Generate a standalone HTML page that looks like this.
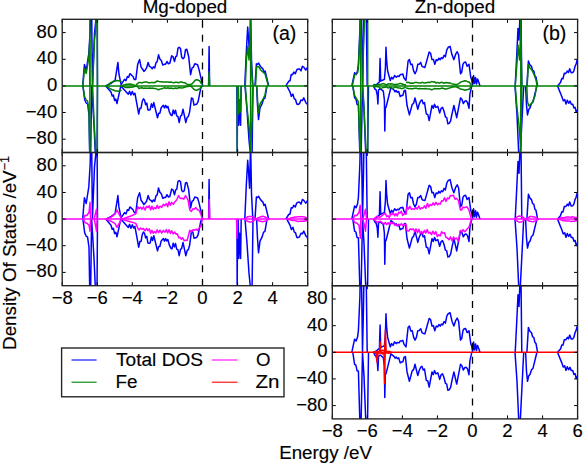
<!DOCTYPE html><html><head><meta charset="utf-8"><style>html,body{margin:0;padding:0;background:#fff;width:583px;height:464px;overflow:hidden}svg{display:block}text{font-family:"Liberation Sans",sans-serif;fill:#000;stroke:#000;stroke-width:0.15}.tk{stroke:#000;stroke-width:1;fill:none}.fr{fill:none;stroke:#222;stroke-width:1.35}.ds{stroke:#000;stroke-width:1.3;stroke-dasharray:7 6.9}.bl path{fill:none;stroke:#0000ff;stroke-width:1.5;stroke-linejoin:round}.gr path,.gr line{fill:none;stroke:#008000;stroke-width:1.5;stroke-linejoin:round}.mg path,.mg line{fill:none;stroke:#ff00ff;stroke-width:1.5;stroke-linejoin:round}.rd path,.rd line{fill:none;stroke:#ff0000;stroke-width:1.5;stroke-linejoin:round}</style></head><body><svg width="583" height="464" viewBox="0 0 583 464"><defs><clipPath id="cA"><rect x="62.2" y="19.3" width="245.5" height="133.2"/></clipPath><clipPath id="cB"><rect x="332.3" y="19.3" width="245.3" height="133.2"/></clipPath></defs><g transform="translate(0,0.0)"><g clip-path="url(#cA)"><g class="bl"><path d="M62.2,85.9M82.7,85.9L84.4,64.5L86.2,70.3L88.8,53.7L90.2,30.6L90.8,-5.0L91.5,-5.0L92.4,85.9L94.5,33.4L95.7,21.9L96.5,-5.0L97.0,-5.0L97.5,85.9M105.7,85.9L111.3,83.2L115.1,80.3L117.9,62.4L118.9,73.7L121.1,84.6L124.5,79.4L126.0,80.6L127.4,76.5L128.6,77.3L129.9,73.7L131.1,74.7L133.0,76.5L134.4,79.6L135.8,79.4L137.7,64.3L139.6,59.6L141.1,67.1L142.5,69.0L143.9,71.4L145.3,69.9L146.7,67.7L148.1,62.4L149.5,66.4L150.9,67.1L152.2,68.8L153.4,66.8L154.7,68.0L156.0,62.6L157.2,61.7L158.5,54.8L159.9,59.0L161.3,60.5L162.8,65.1L164.2,64.3L165.6,64.2L167.0,61.5L168.4,63.8L169.8,63.3L171.7,55.8L173.1,56.8L174.5,61.5L175.7,56.7L176.8,56.0L178.0,48.1L179.2,47.3L180.5,48.5L181.7,57.3L183.0,58.6L184.3,57.5L185.5,49.7L186.8,49.2L188.7,56.7L190.6,74.7L192.0,68.2L193.4,67.1L194.8,63.8L196.2,64.3L197.6,64.8L199.1,69.9L201.9,82.2L202.8,85.9M208.6,85.9L209.1,46.4L209.6,85.9M244.8,85.9L246.3,52.2L247.7,27.0L248.5,37.8L249.6,55.0L250.6,10.0L251.5,60.0L252.8,85.9M255.0,85.9L256.4,63.8L257.5,64.4L258.6,63.1L260.7,66.7L262.9,68.9L264.0,72.2L265.1,71.0L267.2,79.7L268.7,85.9M285.8,85.9L288.7,81.3L290.0,80.8L291.2,74.6L292.5,74.7L293.9,72.1L295.3,73.7L296.7,69.9L298.1,69.0L299.6,69.0L301.0,70.9L302.4,66.3L303.8,67.1L305.7,70.0L307.1,68.2L308.5,64.3"/><path d="M82.9,85.9L84.7,99.7L86.2,103.0L87.6,104.0L89.0,114.3L89.8,160.0L90.6,160.0L91.6,85.9L92.5,100.0L94.0,125.0L95.6,160.0L97.0,160.0L97.5,85.9M105.7,85.9L111.0,92.0L112.2,96.1L113.4,95.1L114.6,100.4L115.8,99.0L117.0,103.6L120.8,85.9L128.3,94.2L129.6,91.2L130.9,95.1L132.3,91.5L133.6,94.8L134.9,93.2L138.7,114.0L139.9,108.3L141.1,108.1L142.2,101.5L143.4,98.9L144.5,100.0L145.6,104.7L146.8,103.1L147.9,109.8L149.0,110.2L150.2,109.6L151.4,103.8L152.6,107.3L153.8,102.6L157.5,117.7L158.7,113.2L159.9,113.2L161.1,108.0L162.3,106.4L163.4,105.4L164.5,107.9L165.7,105.4L166.8,107.7L167.9,106.4L169.4,112.0L170.8,114.9L172.0,115.7L173.2,110.0L174.3,113.7L175.5,110.2L176.7,115.9L178.0,116.7L179.2,122.5L180.5,116.2L181.7,115.2L183.0,109.2L185.8,122.5L187.1,117.5L188.3,116.5L189.6,112.1L191.5,97.9L192.8,98.7L194.0,105.0L195.3,104.5L196.7,104.2L198.1,101.7L200.9,87.5L202.5,85.9M236.9,85.9L237.2,160.0L237.5,85.9M238.3,85.9L238.7,125.3L239.5,100.0L240.6,125.3L241.2,85.9M245.0,85.9L247.0,110.0L249.0,140.0L251.0,160.0L252.0,160.0L253.0,85.9M256.6,85.9L257.5,105.0L258.5,119.6L260.0,108.0L262.0,104.0L263.5,99.2L265.0,98.0L267.0,85.9M286.8,85.9L290.0,92.0L291.4,96.4L292.9,94.1L294.3,98.9L295.5,99.5L296.8,104.0L298.0,104.5L299.5,103.6L301.0,100.0L302.4,100.6L303.8,97.9L306.0,103.0L307.2,103.9L308.5,108.3"/></g><g class="gr"><line x1="62.2" y1="85.9" x2="307.7" y2="85.9"/><path d="M82.9,85.9 L84.4,69.0 L86.2,73.5 L88.8,58.0 L89.9,40.0 L89.9,86.0"/><path d="M82.9,85.9 L84.7,97.0 L86.2,100.0 L87.6,101.0 L89.0,110.0 L89.9,160.0"/><path d="M92.6,85.9 L94.5,40.0 L95.7,30.0 L97.4,-5.0"/><path d="M92.6,85.9 L94.0,120.0 L95.6,150.0 L97.4,160.0"/><path d="M106.2,85.8 L107.7,84.9 L109.3,83.8 L110.8,82.6 L112.4,81.8 L113.9,81.2 L115.4,80.9 L117.0,80.6 L118.5,80.8 L120.1,81.1 L121.6,81.7"/><path d="M106.2,85.8 L107.7,86.8 L109.3,88.0 L110.8,89.0 L112.4,89.8 L113.9,90.3 L115.4,91.0 L117.0,91.0 L118.5,91.2 L120.1,90.7 L121.6,90.1"/><path d="M121.6,86.0 L123.2,85.1 L124.8,84.7 L126.4,84.2 L128.0,84.2 L129.6,84.1 L131.2,84.2 L132.8,84.8 L134.4,85.2 L136.0,85.9"/><path d="M121.6,85.8 L123.2,86.4 L124.8,87.2 L126.4,87.5 L128.0,87.6 L129.6,87.5 L131.2,87.3 L132.8,87.0 L134.4,86.5 L136.0,85.8"/><path d="M136.0,84.9 L137.5,83.7 L139.0,82.4 L140.6,82.6 L142.1,82.9 L143.6,82.3 L145.1,82.1 L146.6,81.9 L148.1,82.7 L149.7,82.8 L151.2,82.6 L152.7,82.5 L154.2,82.7 L155.7,82.0 L157.3,81.0 L158.8,81.4 L160.3,81.7 L161.8,81.7 L163.3,81.9 L164.8,82.1 L166.4,82.0 L167.9,82.0 L169.4,82.3 L170.9,82.0 L172.4,82.4 L174.0,82.7 L175.5,82.2 L177.0,82.3 L178.5,82.9 L180.0,82.1 L181.5,82.1 L183.1,82.5 L184.6,82.7 L186.1,83.7 L187.6,84.7 L189.1,84.4 L190.7,84.4 L192.2,83.7 L193.7,82.0 L195.2,80.3 L196.7,79.8 L198.2,80.1 L199.8,81.0 L201.3,83.6 L202.8,84.1"/><path d="M136.0,86.1 L137.5,86.6 L139.0,88.5 L140.6,87.9 L142.1,87.7 L143.6,88.4 L145.1,88.1 L146.6,88.3 L148.1,88.2 L149.7,87.9 L151.2,88.2 L152.7,88.1 L154.2,88.5 L155.7,88.6 L157.3,89.2 L158.8,89.8 L160.3,88.9 L161.8,88.8 L163.3,88.1 L164.8,87.7 L166.4,88.4 L167.9,87.8 L169.4,88.5 L170.9,88.0 L172.4,88.5 L174.0,88.5 L175.5,88.0 L177.0,88.5 L178.5,87.8 L180.0,87.8 L181.5,88.1 L183.1,87.8 L184.6,87.2 L186.1,86.7 L187.6,86.4 L189.1,86.2 L190.7,85.8 L192.2,87.5 L193.7,89.1 L195.2,90.0 L196.7,90.4 L198.2,89.5 L199.8,88.9 L201.3,86.3 L202.8,85.6"/><path d="M208.6,85.9 L209.1,71.8 L209.6,85.9"/><path d="M245.3,85.9 L246.3,60.9 L247.7,46.5 L249.0,60.0 L250.6,30.0 L251.5,70.0 L252.8,85.9"/><path d="M245.3,85.9 L247.0,108.0 L249.0,125.0 L250.6,150.0 L252.0,120.0 L252.8,85.9"/><path d="M255.5,85.9 L256.6,67.0 L258.6,66.5 L260.7,70.0 L262.9,72.0 L265.1,74.0 L267.2,81.5 L268.3,85.9"/><path d="M256.8,85.9 L257.7,102.0 L258.7,113.0 L260.0,104.0 L262.0,101.0 L265.0,95.0 L266.6,85.9"/><path d="M238.3,85.9 L238.8,114.0 L239.6,100.0 L240.5,112.0 L241.2,85.9"/><line x1="89.9" y1="-5.0" x2="89.9" y2="160.0"/><line x1="97.4" y1="-5.0" x2="97.4" y2="160.0"/><line x1="237.3" y1="85.9" x2="237.3" y2="160.0"/><line x1="250.6" y1="-5.0" x2="250.6" y2="160.0"/></g><line x1="202.5" y1="20.8" x2="202.5" y2="152.5" class="ds"/></g><path d="M62.2,19.3v3.5M62.2,152.5v-3.5M97.3,19.3v3.5M97.3,152.5v-3.5M132.3,19.3v3.5M132.3,152.5v-3.5M167.4,19.3v3.5M167.4,152.5v-3.5M202.5,19.3v3.5M202.5,152.5v-3.5M237.6,19.3v3.5M237.6,152.5v-3.5M272.6,19.3v3.5M272.6,152.5v-3.5M307.7,19.3v3.5M307.7,152.5v-3.5M62.2,32.6h3.5M307.7,32.6h-3.5M62.2,59.3h3.5M307.7,59.3h-3.5M62.2,85.9h3.5M307.7,85.9h-3.5M62.2,112.5h3.5M307.7,112.5h-3.5M62.2,139.2h3.5M307.7,139.2h-3.5" class="tk"/><rect class="fr" x="62.2" y="19.3" width="245.5" height="133.2"/></g><g transform="translate(0,133.2)"><g clip-path="url(#cA)"><g class="bl"><path d="M62.2,85.9M82.7,85.9L84.4,64.5L86.2,70.3L88.8,53.7L90.2,30.6L90.8,-5.0L91.5,-5.0L92.4,85.9L94.5,33.4L95.7,21.9L96.5,-5.0L97.0,-5.0L97.5,85.9M105.7,85.9L111.3,83.2L115.1,80.3L117.9,62.4L118.9,73.7L121.1,84.6L124.5,79.4L126.0,80.6L127.4,76.5L128.6,77.3L129.9,73.7L131.1,74.7L133.0,76.5L134.4,79.6L135.8,79.4L137.7,64.3L139.6,59.6L141.1,67.1L142.5,69.0L143.9,71.4L145.3,69.9L146.7,67.7L148.1,62.4L149.5,66.4L150.9,67.1L152.2,68.8L153.4,66.8L154.7,68.0L156.0,62.6L157.2,61.7L158.5,54.8L159.9,59.0L161.3,60.5L162.8,65.1L164.2,64.3L165.6,64.2L167.0,61.5L168.4,63.8L169.8,63.3L171.7,55.8L173.1,56.8L174.5,61.5L175.7,56.7L176.8,56.0L178.0,48.1L179.2,47.3L180.5,48.5L181.7,57.3L183.0,58.6L184.3,57.5L185.5,49.7L186.8,49.2L188.7,56.7L190.6,74.7L192.0,68.2L193.4,67.1L194.8,63.8L196.2,64.3L197.6,64.8L199.1,69.9L201.9,82.2L202.8,85.9M208.6,85.9L209.1,46.4L209.6,85.9M244.8,85.9L246.3,52.2L247.7,27.0L248.5,37.8L249.6,55.0L250.6,10.0L251.5,60.0L252.8,85.9M255.0,85.9L256.4,63.8L257.5,64.4L258.6,63.1L260.7,66.7L262.9,68.9L264.0,72.2L265.1,71.0L267.2,79.7L268.7,85.9M285.8,85.9L288.7,81.3L290.0,80.8L291.2,74.6L292.5,74.7L293.9,72.1L295.3,73.7L296.7,69.9L298.1,69.0L299.6,69.0L301.0,70.9L302.4,66.3L303.8,67.1L305.7,70.0L307.1,68.2L308.5,64.3"/><path d="M82.9,85.9L84.7,99.7L86.2,103.0L87.6,104.0L89.0,114.3L89.8,160.0L90.6,160.0L91.6,85.9L92.5,100.0L94.0,125.0L95.6,160.0L97.0,160.0L97.5,85.9M105.7,85.9L111.0,92.0L112.2,96.1L113.4,95.1L114.6,100.4L115.8,99.0L117.0,103.6L120.8,85.9L128.3,94.2L129.6,91.2L130.9,95.1L132.3,91.5L133.6,94.8L134.9,93.2L138.7,114.0L139.9,108.3L141.1,108.1L142.2,101.5L143.4,98.9L144.5,100.0L145.6,104.7L146.8,103.1L147.9,109.8L149.0,110.2L150.2,109.6L151.4,103.8L152.6,107.3L153.8,102.6L157.5,117.7L158.7,113.2L159.9,113.2L161.1,108.0L162.3,106.4L163.4,105.4L164.5,107.9L165.7,105.4L166.8,107.7L167.9,106.4L169.4,112.0L170.8,114.9L172.0,115.7L173.2,110.0L174.3,113.7L175.5,110.2L176.7,115.9L178.0,116.7L179.2,122.5L180.5,116.2L181.7,115.2L183.0,109.2L185.8,122.5L187.1,117.5L188.3,116.5L189.6,112.1L191.5,97.9L192.8,98.7L194.0,105.0L195.3,104.5L196.7,104.2L198.1,101.7L200.9,87.5L202.5,85.9M236.9,85.9L237.2,160.0L237.5,85.9M238.3,85.9L238.7,125.3L239.5,100.0L240.6,125.3L241.2,85.9M245.0,85.9L247.0,110.0L249.0,140.0L251.0,160.0L252.0,160.0L253.0,85.9M256.6,85.9L257.5,105.0L258.5,119.6L260.0,108.0L262.0,104.0L263.5,99.2L265.0,98.0L267.0,85.9M286.8,85.9L290.0,92.0L291.4,96.4L292.9,94.1L294.3,98.9L295.5,99.5L296.8,104.0L298.0,104.5L299.5,103.6L301.0,100.0L302.4,100.6L303.8,97.9L306.0,103.0L307.2,103.9L308.5,108.3"/></g><g class="mg"><line x1="62.2" y1="85.9" x2="307.7" y2="85.9"/><path d="M83.4,85.9 L85.0,82.0 L87.0,82.3 L89.0,79.0 L90.0,69.0 L90.6,85.9"/><path d="M83.4,85.9 L85.0,89.5 L87.0,90.0 L89.0,92.0 L90.0,98.0 L90.6,85.9"/><path d="M94.2,85.9 L95.5,80.0 L96.5,76.0 L97.2,85.9"/><path d="M94.2,85.9 L95.5,92.0 L96.5,98.0 L97.2,85.9"/><path d="M105.6,85.9 L111.0,84.0 L115.0,81.0 L117.0,76.8 L119.0,81.0 L121.8,85.9"/><path d="M105.6,85.9 L111.0,88.0 L115.0,90.5 L117.0,94.2 L119.0,90.5 L121.8,85.9"/><path d="M121.8,85.9 L126.0,84.5 L130.3,83.0 L135.8,80.7 L137.8,73.6 L139.2,75.5 L140.6,74.0 L142.0,76.0 L143.5,73.6 L145.0,76.8 L146.5,73.2 L148.0,74.5 L149.3,72.5 L150.6,76.7 L151.9,73.0 L153.2,76.2 L154.5,74.4 L155.9,75.6 L157.2,72.1 L158.6,75.2 L160.0,73.0 L161.7,74.3 L163.3,71.1 L165.0,72.5 L166.3,70.3 L167.7,73.5 L169.0,68.6 L170.4,72.1 L171.7,69.2 L173.3,71.2 L175.0,68.5 L176.8,66.6 L178.6,62.3 L180.3,65.3 L182.0,65.0 L183.8,66.0 L185.5,62.3 L188.1,67.0 L189.8,76.8 L191.4,78.3 L193.0,75.5 L194.4,75.9 L195.9,74.4 L197.4,76.6 L199.0,77.0 L201.0,81.3 L202.3,85.9"/><path d="M121.8,85.9 L126.0,87.3 L130.3,88.5 L135.8,90.2 L137.8,95.0 L139.2,96.8 L140.6,94.8 L142.0,96.0 L143.5,95.3 L145.0,97.6 L146.5,95.3 L148.0,97.5 L149.3,95.6 L150.6,100.0 L151.9,97.0 L153.2,100.1 L154.5,98.3 L155.9,99.8 L157.2,96.7 L158.6,99.5 L160.0,97.0 L161.7,100.0 L163.3,97.2 L165.0,99.0 L166.3,96.4 L167.7,99.8 L169.0,96.6 L170.4,100.2 L171.7,97.5 L173.1,100.8 L174.6,98.8 L176.0,101.0 L177.3,100.6 L178.7,104.6 L180.0,104.0 L181.4,106.0 L182.8,104.5 L184.1,107.5 L185.5,107.0 L187.2,107.0 L189.8,97.0 L191.4,98.7 L193.0,96.5 L194.4,97.0 L195.9,96.0 L197.4,97.2 L199.0,95.0 L201.0,93.0 L202.3,86.5"/><path d="M208.8,85.9 L209.2,66.4 L209.6,85.9"/><path d="M236.5,85.9 L237.0,105.0 L237.5,85.9"/><path d="M244.7,85.9 L246.3,84.5 L247.9,83.5 L249.5,83.2 L251.2,83.2 L252.8,83.5 L254.4,84.8 L256.0,85.8"/><path d="M244.7,85.7 L246.3,87.3 L247.9,88.1 L249.5,88.9 L251.2,88.7 L252.8,88.0 L254.4,87.0 L256.0,85.9"/><path d="M256.0,86.1 L257.7,84.8 L259.3,84.2 L261.0,83.6 L262.6,83.1 L264.3,83.5 L266.0,84.3 L267.6,85.1 L269.3,86.0"/><path d="M256.0,86.0 L257.7,86.8 L259.3,87.8 L261.0,88.1 L262.6,88.6 L264.3,88.1 L266.0,87.8 L267.6,86.7 L269.3,85.7"/><path d="M287.0,86.1 L288.6,85.4 L290.1,85.3 L291.7,84.5 L293.3,84.2 L294.9,83.9 L296.4,83.7 L298.0,83.6 L299.6,83.6 L301.1,83.5 L302.7,83.5 L304.3,83.7 L305.9,84.3 L307.4,84.5 L309.0,84.6"/><path d="M287.0,85.9 L288.6,86.3 L290.1,86.6 L291.7,87.1 L293.3,87.2 L294.9,87.4 L296.4,87.8 L298.0,88.2 L299.6,88.1 L301.1,88.0 L302.7,87.8 L304.3,88.0 L305.9,87.4 L307.4,87.5 L309.0,87.1"/></g><line x1="202.5" y1="20.8" x2="202.5" y2="152.5" class="ds"/></g><path d="M62.2,19.3v3.5M62.2,152.5v-3.5M97.3,19.3v3.5M97.3,152.5v-3.5M132.3,19.3v3.5M132.3,152.5v-3.5M167.4,19.3v3.5M167.4,152.5v-3.5M202.5,19.3v3.5M202.5,152.5v-3.5M237.6,19.3v3.5M237.6,152.5v-3.5M272.6,19.3v3.5M272.6,152.5v-3.5M307.7,19.3v3.5M307.7,152.5v-3.5M62.2,32.6h3.5M307.7,32.6h-3.5M62.2,59.3h3.5M307.7,59.3h-3.5M62.2,85.9h3.5M307.7,85.9h-3.5M62.2,112.5h3.5M307.7,112.5h-3.5M62.2,139.2h3.5M307.7,139.2h-3.5" class="tk"/><rect class="fr" x="62.2" y="19.3" width="245.5" height="133.2"/></g><g transform="translate(0,0.0)"><g clip-path="url(#cB)"><g class="bl"><path d="M332.3,85.9M351.8,85.9L354.6,72.8L356.1,74.6L357.5,70.9L358.4,64.3L359.9,30.3L360.5,-5.0L361.3,-5.0L362.5,85.9L363.5,40.0L364.2,-5.0L366.0,-5.0L367.2,85.9M374.2,85.9L377.0,84.0L379.4,82.0L380.1,58.6L380.7,81.0L382.5,80.2L384.4,79.4L385.4,68.0L386.0,47.3L386.6,60.0L387.6,70.8L390.3,80.5L391.6,77.2L393.0,79.0L394.6,75.5L396.2,77.2L397.6,76.0L399.0,76.5L400.3,74.6L401.6,74.5L402.8,74.0L404.0,78.0L406.0,80.5L408.1,61.0L409.4,59.6L410.8,64.5L412.2,64.3L413.6,70.8L415.0,73.7L416.4,71.0L417.8,64.3L419.2,64.2L420.7,62.4L422.1,66.4L423.5,67.1L424.9,67.4L426.3,62.4L429.2,52.0L430.6,53.3L432.0,59.6L433.4,59.4L434.8,64.3L436.2,59.7L437.7,60.5L438.9,58.2L440.2,59.7L441.4,57.7L442.7,58.5L444.1,55.2L445.4,56.7L446.8,49.8L448.2,47.3L450.1,46.4L452.0,54.8L453.9,59.6L455.8,53.9L457.2,51.7L458.6,54.8L460.5,73.7L461.7,72.2L463.0,64.1L464.2,62.4L465.6,62.0L467.1,66.2L469.0,64.3L470.8,77.5L471.8,80.0L472.6,85.5L473.6,75.6L474.5,83.5L475.6,77.5L476.5,84.0L477.6,79.0L478.7,82.0L480.0,85.9M515.2,85.9L516.5,60.0L518.0,28.4L519.0,40.0L520.8,-5.0L521.8,85.9M526.9,85.9L528.4,61.0L529.9,64.9L531.5,66.4L532.6,70.4L533.8,71.0L534.9,76.0L536.0,77.1L537.6,85.9M557.5,85.9L560.5,82.5L561.8,78.5L563.0,78.7L564.3,73.3L565.8,73.4L567.4,71.0L568.5,72.5L569.7,68.7L571.2,72.7L572.8,72.5L573.9,70.9L575.0,66.4L576.1,64.0L577.3,59.5L578.5,58.0"/><path d="M352.8,85.9L354.6,97.9L355.9,98.8L357.1,104.4L358.4,104.5L360.0,160.0L361.0,160.0L362.5,85.9L364.0,110.0L366.0,160.0L367.5,160.0L368.5,85.9M373.6,85.9L375.0,89.1L376.1,89.8L377.3,95.0L377.9,104.0L378.5,90.0L380.1,88.6L383.3,91.2L384.4,100.0L384.8,131.0L385.3,108.0L386.0,107.4L387.6,101.0L390.9,87.5L394.0,90.0L395.1,91.8L396.2,90.6L397.3,92.3L398.7,91.5L400.2,96.5L401.6,95.6L402.9,95.4L404.1,90.7L405.4,90.2L407.0,105.3L409.4,114.9L412.2,104.5L413.6,103.2L415.0,97.9L417.8,109.2L419.2,104.1L420.7,100.8L422.0,100.0L423.2,103.7L424.5,102.6L426.3,114.0L427.8,114.6L429.2,120.6L432.0,105.5L433.3,108.2L434.5,104.2L435.8,107.4L437.8,106.4L439.7,113.0L441.1,108.4L442.5,107.4L443.9,110.8L445.4,116.8L446.7,117.7L447.9,123.9L449.2,123.4L450.6,120.9L452.0,114.0L453.9,105.5L456.7,117.7L460.5,97.9L461.9,99.3L463.3,103.6L464.7,101.3L466.1,100.8L467.6,102.7L469.0,108.3L469.9,94.2L471.8,85.9M515.0,85.9L517.0,115.0L519.0,160.0L520.0,160.0L523.7,85.9M525.6,85.9L526.5,105.0L527.5,114.9L528.8,109.3L530.0,108.0L531.5,103.3L533.0,102.0L536.9,85.9M557.5,85.9L562.0,97.0L563.3,100.7L564.7,99.5L566.0,104.0L567.3,100.3L568.7,103.3L570.0,101.0L571.3,104.2L572.7,104.2L574.0,108.0L575.1,107.3L576.2,112.2L577.4,109.8L578.5,112.0"/></g><g class="gr"><line x1="332.3" y1="85.9" x2="577.6" y2="85.9"/><path d="M352.3,85.9 L354.6,75.0 L357.5,73.0 L358.4,68.0 L359.9,35.0 L360.7,-5.0"/><path d="M352.8,85.9 L354.6,95.5 L358.4,102.0 L360.0,150.0 L360.7,160.0"/><path d="M362.7,85.9 L363.5,45.0 L364.5,20.0 L367.7,-5.0"/><path d="M362.7,85.9 L364.0,108.0 L366.0,150.0 L367.7,160.0"/><path d="M373.0,84.7 L374.5,84.6 L376.0,85.2 L377.5,84.7 L379.0,84.3 L380.5,84.4 L382.0,83.9 L383.5,83.6 L385.0,84.2 L386.5,85.0 L388.0,83.8 L389.5,83.9 L391.0,83.7 L392.5,83.9 L394.0,84.6 L395.5,84.6 L397.0,84.3 L398.5,84.0 L400.0,83.4 L401.5,83.8 L403.0,84.2 L404.5,84.7 L406.0,84.8"/><path d="M373.0,86.6 L374.5,87.1 L376.0,86.3 L377.5,86.7 L379.0,87.0 L380.5,88.3 L382.0,87.9 L383.5,87.4 L385.0,87.2 L386.5,86.8 L388.0,88.0 L389.5,87.6 L391.0,87.6 L392.5,88.4 L394.0,87.7 L395.5,86.8 L397.0,87.5 L398.5,88.1 L400.0,87.9 L401.5,88.8 L403.0,88.3 L404.5,87.7 L406.0,86.7"/><path d="M406.0,82.6 L407.5,82.2 L409.0,82.5 L410.5,83.2 L412.0,83.1 L413.5,83.2 L415.1,82.4 L416.6,82.4 L418.1,82.8 L419.6,83.0 L421.1,82.9 L422.6,82.3 L424.1,83.1 L425.6,83.0 L427.1,82.4 L428.6,82.3 L430.1,82.4 L431.7,81.6 L433.2,82.0 L434.7,81.8 L436.2,83.1 L437.7,82.3 L439.2,83.2 L440.7,82.6 L442.2,82.3 L443.7,83.2 L445.2,82.7 L446.7,82.6 L448.3,83.0 L449.8,82.8 L451.3,83.6 L452.8,84.1 L454.3,84.3 L455.8,84.5 L457.3,84.4 L458.8,83.6 L460.3,82.4 L461.8,81.6 L463.3,81.2 L464.9,80.7 L466.4,81.0 L467.9,82.0 L469.4,82.1 L470.9,84.9 L472.4,85.3"/><path d="M406.0,88.0 L407.5,88.3 L409.0,88.7 L410.5,88.4 L412.0,89.0 L413.5,88.4 L415.1,88.2 L416.6,88.2 L418.1,88.9 L419.6,88.5 L421.1,88.8 L422.6,88.7 L424.1,88.8 L425.6,88.5 L427.1,88.8 L428.6,89.0 L430.1,89.1 L431.7,89.9 L433.2,89.1 L434.7,88.6 L436.2,88.8 L437.7,88.8 L439.2,88.7 L440.7,88.5 L442.2,88.0 L443.7,88.6 L445.2,88.9 L446.7,88.9 L448.3,88.2 L449.8,87.9 L451.3,87.5 L452.8,86.7 L454.3,86.9 L455.8,86.5 L457.3,87.3 L458.8,88.0 L460.3,88.9 L461.8,89.2 L463.3,89.6 L464.9,90.3 L466.4,89.8 L467.9,89.5 L469.4,89.0 L470.9,86.7 L472.4,85.6"/><path d="M515.2,85.9 L516.5,70.0 L518.0,45.0 L519.5,60.0 L520.8,30.0 L521.8,85.9"/><path d="M515.2,85.9 L517.0,108.0 L519.0,125.0 L520.8,150.0 L521.8,85.9"/><path d="M527.1,85.9 L528.4,64.5 L529.9,68.0 L531.5,69.5 L533.8,74.0 L536.0,80.0 L537.2,85.9"/><path d="M526.8,85.9 L527.5,102.0 L529.0,106.0 L532.0,103.0 L535.0,96.0 L536.6,85.9"/><line x1="360.7" y1="-5.0" x2="360.7" y2="160.0"/><line x1="367.7" y1="-5.0" x2="367.7" y2="160.0"/><line x1="520.8" y1="-5.0" x2="520.8" y2="160.0"/></g><line x1="472.5" y1="20.8" x2="472.5" y2="152.5" class="ds"/></g><path d="M332.3,19.3v3.5M332.3,152.5v-3.5M367.3,19.3v3.5M367.3,152.5v-3.5M402.4,19.3v3.5M402.4,152.5v-3.5M437.4,19.3v3.5M437.4,152.5v-3.5M472.5,19.3v3.5M472.5,152.5v-3.5M507.5,19.3v3.5M507.5,152.5v-3.5M542.6,19.3v3.5M542.6,152.5v-3.5M577.6,19.3v3.5M577.6,152.5v-3.5M332.3,32.6h3.5M577.6,32.6h-3.5M332.3,59.3h3.5M577.6,59.3h-3.5M332.3,85.9h3.5M577.6,85.9h-3.5M332.3,112.5h3.5M577.6,112.5h-3.5M332.3,139.2h3.5M577.6,139.2h-3.5" class="tk"/><rect class="fr" x="332.3" y="19.3" width="245.3" height="133.2"/></g><g transform="translate(0,133.2)"><g clip-path="url(#cB)"><g class="bl"><path d="M332.3,85.9M351.8,85.9L354.6,72.8L356.1,74.6L357.5,70.9L358.4,64.3L359.9,30.3L360.5,-5.0L361.3,-5.0L362.5,85.9L363.5,40.0L364.2,-5.0L366.0,-5.0L367.2,85.9M374.2,85.9L377.0,84.0L379.4,82.0L380.1,58.6L380.7,81.0L382.5,80.2L384.4,79.4L385.4,68.0L386.0,47.3L386.6,60.0L387.6,70.8L390.3,80.5L391.6,77.2L393.0,79.0L394.6,75.5L396.2,77.2L397.6,76.0L399.0,76.5L400.3,74.6L401.6,74.5L402.8,74.0L404.0,78.0L406.0,80.5L408.1,61.0L409.4,59.6L410.8,64.5L412.2,64.3L413.6,70.8L415.0,73.7L416.4,71.0L417.8,64.3L419.2,64.2L420.7,62.4L422.1,66.4L423.5,67.1L424.9,67.4L426.3,62.4L429.2,52.0L430.6,53.3L432.0,59.6L433.4,59.4L434.8,64.3L436.2,59.7L437.7,60.5L438.9,58.2L440.2,59.7L441.4,57.7L442.7,58.5L444.1,55.2L445.4,56.7L446.8,49.8L448.2,47.3L450.1,46.4L452.0,54.8L453.9,59.6L455.8,53.9L457.2,51.7L458.6,54.8L460.5,73.7L461.7,72.2L463.0,64.1L464.2,62.4L465.6,62.0L467.1,66.2L469.0,64.3L470.8,77.5L471.8,80.0L472.6,85.5L473.6,75.6L474.5,83.5L475.6,77.5L476.5,84.0L477.6,79.0L478.7,82.0L480.0,85.9M515.2,85.9L516.5,60.0L518.0,28.4L519.0,40.0L520.8,-5.0L521.8,85.9M526.9,85.9L528.4,61.0L529.9,64.9L531.5,66.4L532.6,70.4L533.8,71.0L534.9,76.0L536.0,77.1L537.6,85.9M557.5,85.9L560.5,82.5L561.8,78.5L563.0,78.7L564.3,73.3L565.8,73.4L567.4,71.0L568.5,72.5L569.7,68.7L571.2,72.7L572.8,72.5L573.9,70.9L575.0,66.4L576.1,64.0L577.3,59.5L578.5,58.0"/><path d="M352.8,85.9L354.6,97.9L355.9,98.8L357.1,104.4L358.4,104.5L360.0,160.0L361.0,160.0L362.5,85.9L364.0,110.0L366.0,160.0L367.5,160.0L368.5,85.9M373.6,85.9L375.0,89.1L376.1,89.8L377.3,95.0L377.9,104.0L378.5,90.0L380.1,88.6L383.3,91.2L384.4,100.0L384.8,131.0L385.3,108.0L386.0,107.4L387.6,101.0L390.9,87.5L394.0,90.0L395.1,91.8L396.2,90.6L397.3,92.3L398.7,91.5L400.2,96.5L401.6,95.6L402.9,95.4L404.1,90.7L405.4,90.2L407.0,105.3L409.4,114.9L412.2,104.5L413.6,103.2L415.0,97.9L417.8,109.2L419.2,104.1L420.7,100.8L422.0,100.0L423.2,103.7L424.5,102.6L426.3,114.0L427.8,114.6L429.2,120.6L432.0,105.5L433.3,108.2L434.5,104.2L435.8,107.4L437.8,106.4L439.7,113.0L441.1,108.4L442.5,107.4L443.9,110.8L445.4,116.8L446.7,117.7L447.9,123.9L449.2,123.4L450.6,120.9L452.0,114.0L453.9,105.5L456.7,117.7L460.5,97.9L461.9,99.3L463.3,103.6L464.7,101.3L466.1,100.8L467.6,102.7L469.0,108.3L469.9,94.2L471.8,85.9M515.0,85.9L517.0,115.0L519.0,160.0L520.0,160.0L523.7,85.9M525.6,85.9L526.5,105.0L527.5,114.9L528.8,109.3L530.0,108.0L531.5,103.3L533.0,102.0L536.9,85.9M557.5,85.9L562.0,97.0L563.3,100.7L564.7,99.5L566.0,104.0L567.3,100.3L568.7,103.3L570.0,101.0L571.3,104.2L572.7,104.2L574.0,108.0L575.1,107.3L576.2,112.2L577.4,109.8L578.5,112.0"/></g><g class="mg"><line x1="332.3" y1="85.9" x2="577.6" y2="85.9"/><path d="M352.8,85.9 L355.0,82.0 L357.0,82.3 L359.0,79.0 L360.2,72.0 L360.8,85.9"/><path d="M352.8,85.9 L355.0,89.5 L357.0,90.0 L359.0,92.0 L360.4,105.0 L360.8,85.9"/><path d="M362.8,85.9 L364.5,80.0 L365.5,76.0 L366.5,85.9"/><path d="M362.8,85.9 L364.5,92.0 L365.5,98.0 L366.5,85.9"/><path d="M373.7,85.9 L377.0,83.0 L380.0,84.0 L384.0,81.0 L385.3,80.1 L386.7,83.6 L388.0,82.5 L389.3,84.3 L390.7,80.5 L392.0,81.5 L393.3,79.6 L394.7,82.7 L396.0,80.5 L397.3,82.7 L398.7,78.9 L400.0,80.0 L401.3,78.0 L402.7,82.2 L404.0,80.5 L406.0,81.0 L407.0,73.5 L408.5,75.8 L409.9,73.1 L411.4,76.3 L412.9,75.5 L414.3,76.2 L415.8,74.3 L417.2,75.9 L418.7,72.9 L420.2,75.9 L421.6,74.6 L423.0,75.0 L424.5,72.6 L425.9,75.1 L427.3,70.2 L428.8,73.7 L430.2,71.3 L431.6,72.3 L433.1,69.8 L434.5,72.0 L435.9,69.1 L437.4,71.4 L438.8,70.2 L440.2,70.9 L441.6,67.6 L443.0,68.0 L444.5,64.6 L446.0,68.2 L447.5,64.8 L448.9,65.7 L450.4,62.3 L451.8,62.7 L453.4,62.0 L455.0,66.0 L456.6,65.3 L458.3,67.0 L460.4,76.7 L461.7,76.7 L463.0,74.0 L464.9,74.5 L466.9,73.5 L469.0,77.0 L471.2,85.3"/><path d="M373.7,85.9 L377.0,89.0 L380.0,88.0 L384.0,91.0 L385.3,89.1 L386.7,91.5 L388.0,89.5 L389.3,91.4 L390.7,89.1 L392.0,90.5 L393.3,89.3 L394.7,91.9 L396.0,91.5 L397.3,92.8 L398.7,91.0 L400.0,92.0 L401.3,90.4 L402.7,92.5 L404.0,91.5 L406.0,91.0 L407.0,97.5 L408.7,97.9 L410.3,95.6 L412.0,96.5 L413.4,95.6 L414.7,98.7 L416.1,95.7 L417.5,99.5 L418.9,96.0 L420.2,100.0 L421.6,98.3 L423.0,100.6 L424.4,97.2 L425.8,99.9 L427.2,96.4 L428.6,99.9 L430.0,99.0 L431.5,101.4 L432.9,98.0 L434.4,101.0 L435.9,98.5 L437.3,103.3 L438.8,101.5 L440.2,102.8 L441.6,98.5 L443.0,100.0 L444.5,99.5 L446.0,104.2 L447.5,104.8 L449.0,106.6 L450.5,103.7 L452.0,107.6 L453.5,103.7 L455.0,106.0 L456.6,104.9 L458.3,108.0 L460.4,97.2 L461.7,98.6 L463.0,96.5 L464.9,98.5 L466.9,96.1 L469.0,94.0 L471.2,86.5"/><path d="M514.5,86.0 L516.1,84.5 L517.6,83.4 L519.2,82.8 L520.8,83.0 L522.4,83.6 L523.9,84.6 L525.5,86.0"/><path d="M514.5,86.0 L516.1,87.0 L517.6,88.2 L519.2,89.0 L520.8,88.9 L522.4,88.3 L523.9,87.0 L525.5,86.0"/><path d="M525.5,85.9 L527.0,85.0 L528.5,84.3 L530.0,83.4 L531.5,83.4 L533.0,83.5 L534.5,83.8 L536.0,84.4 L537.5,85.4 L539.0,86.0"/><path d="M525.5,85.9 L527.0,86.6 L528.5,87.5 L530.0,88.1 L531.5,88.4 L533.0,88.6 L534.5,88.0 L536.0,87.5 L537.5,86.6 L539.0,85.7"/><path d="M557.0,85.7 L558.6,85.6 L560.1,85.1 L561.7,84.4 L563.3,84.5 L564.9,84.2 L566.4,83.9 L568.0,83.7 L569.6,83.9 L571.1,84.0 L572.7,83.5 L574.3,84.2 L575.9,84.2 L577.4,84.4 L579.0,84.7"/><path d="M557.0,85.8 L558.6,86.2 L560.1,86.4 L561.7,86.9 L563.3,87.5 L564.9,87.6 L566.4,87.9 L568.0,87.8 L569.6,87.9 L571.1,88.3 L572.7,88.0 L574.3,88.1 L575.9,87.4 L577.4,87.5 L579.0,87.0"/></g><line x1="472.5" y1="20.8" x2="472.5" y2="152.5" class="ds"/></g><path d="M332.3,19.3v3.5M332.3,152.5v-3.5M367.3,19.3v3.5M367.3,152.5v-3.5M402.4,19.3v3.5M402.4,152.5v-3.5M437.4,19.3v3.5M437.4,152.5v-3.5M472.5,19.3v3.5M472.5,152.5v-3.5M507.5,19.3v3.5M507.5,152.5v-3.5M542.6,19.3v3.5M542.6,152.5v-3.5M577.6,19.3v3.5M577.6,152.5v-3.5M332.3,32.6h3.5M577.6,32.6h-3.5M332.3,59.3h3.5M577.6,59.3h-3.5M332.3,85.9h3.5M577.6,85.9h-3.5M332.3,112.5h3.5M577.6,112.5h-3.5M332.3,139.2h3.5M577.6,139.2h-3.5" class="tk"/><rect class="fr" x="332.3" y="19.3" width="245.3" height="133.2"/></g><g transform="translate(0,266.4)"><g clip-path="url(#cB)"><g class="bl"><path d="M332.3,85.9M351.8,85.9L354.6,72.8L356.1,74.6L357.5,70.9L358.4,64.3L359.9,30.3L360.5,-5.0L361.3,-5.0L362.5,85.9L363.5,40.0L364.2,-5.0L366.0,-5.0L367.2,85.9M374.2,85.9L377.0,84.0L379.4,82.0L380.1,58.6L380.7,81.0L382.5,80.2L384.4,79.4L385.4,68.0L386.0,47.3L386.6,60.0L387.6,70.8L390.3,80.5L391.6,77.2L393.0,79.0L394.6,75.5L396.2,77.2L397.6,76.0L399.0,76.5L400.3,74.6L401.6,74.5L402.8,74.0L404.0,78.0L406.0,80.5L408.1,61.0L409.4,59.6L410.8,64.5L412.2,64.3L413.6,70.8L415.0,73.7L416.4,71.0L417.8,64.3L419.2,64.2L420.7,62.4L422.1,66.4L423.5,67.1L424.9,67.4L426.3,62.4L429.2,52.0L430.6,53.3L432.0,59.6L433.4,59.4L434.8,64.3L436.2,59.7L437.7,60.5L438.9,58.2L440.2,59.7L441.4,57.7L442.7,58.5L444.1,55.2L445.4,56.7L446.8,49.8L448.2,47.3L450.1,46.4L452.0,54.8L453.9,59.6L455.8,53.9L457.2,51.7L458.6,54.8L460.5,73.7L461.7,72.2L463.0,64.1L464.2,62.4L465.6,62.0L467.1,66.2L469.0,64.3L470.8,77.5L471.8,80.0L472.6,85.5L473.6,75.6L474.5,83.5L475.6,77.5L476.5,84.0L477.6,79.0L478.7,82.0L480.0,85.9M515.2,85.9L516.5,60.0L518.0,28.4L519.0,40.0L520.8,-5.0L521.8,85.9M526.9,85.9L528.4,61.0L529.9,64.9L531.5,66.4L532.6,70.4L533.8,71.0L534.9,76.0L536.0,77.1L537.6,85.9M557.5,85.9L560.5,82.5L561.8,78.5L563.0,78.7L564.3,73.3L565.8,73.4L567.4,71.0L568.5,72.5L569.7,68.7L571.2,72.7L572.8,72.5L573.9,70.9L575.0,66.4L576.1,64.0L577.3,59.5L578.5,58.0"/><path d="M352.8,85.9L354.6,97.9L355.9,98.8L357.1,104.4L358.4,104.5L360.0,160.0L361.0,160.0L362.5,85.9L364.0,110.0L366.0,160.0L367.5,160.0L368.5,85.9M373.6,85.9L375.0,89.1L376.1,89.8L377.3,95.0L377.9,104.0L378.5,90.0L380.1,88.6L383.3,91.2L384.4,100.0L384.8,131.0L385.3,108.0L386.0,107.4L387.6,101.0L390.9,87.5L394.0,90.0L395.1,91.8L396.2,90.6L397.3,92.3L398.7,91.5L400.2,96.5L401.6,95.6L402.9,95.4L404.1,90.7L405.4,90.2L407.0,105.3L409.4,114.9L412.2,104.5L413.6,103.2L415.0,97.9L417.8,109.2L419.2,104.1L420.7,100.8L422.0,100.0L423.2,103.7L424.5,102.6L426.3,114.0L427.8,114.6L429.2,120.6L432.0,105.5L433.3,108.2L434.5,104.2L435.8,107.4L437.8,106.4L439.7,113.0L441.1,108.4L442.5,107.4L443.9,110.8L445.4,116.8L446.7,117.7L447.9,123.9L449.2,123.4L450.6,120.9L452.0,114.0L453.9,105.5L456.7,117.7L460.5,97.9L461.9,99.3L463.3,103.6L464.7,101.3L466.1,100.8L467.6,102.7L469.0,108.3L469.9,94.2L471.8,85.9M515.0,85.9L517.0,115.0L519.0,160.0L520.0,160.0L523.7,85.9M525.6,85.9L526.5,105.0L527.5,114.9L528.8,109.3L530.0,108.0L531.5,103.3L533.0,102.0L536.9,85.9M557.5,85.9L562.0,97.0L563.3,100.7L564.7,99.5L566.0,104.0L567.3,100.3L568.7,103.3L570.0,101.0L571.3,104.2L572.7,104.2L574.0,108.0L575.1,107.3L576.2,112.2L577.4,109.8L578.5,112.0"/></g><g class="rd"><line x1="332.3" y1="85.9" x2="577.6" y2="85.9"/><path d="M376.0,85.9 L377.1,96.0 L378.0,85.9"/><path d="M379.5,85.9 L380.1,75.5 L380.7,85.9"/><path d="M384.6,85.9 L385.4,63.4 L386.2,85.9"/><path d="M384.0,85.9 L384.6,117.0 L385.2,85.9"/><path d="M373.0,85.7 L374.6,85.8 L376.2,85.0 L377.8,85.0 L379.3,85.3 L380.9,84.8 L382.5,83.8 L384.1,84.3 L385.7,85.0 L387.2,85.3 L388.8,84.8 L390.4,85.5 L392.0,86.2"/><path d="M373.0,85.9 L374.6,86.0 L376.2,87.0 L377.8,87.1 L379.3,86.5 L380.9,86.7 L382.5,87.6 L384.1,87.4 L385.7,86.5 L387.2,86.6 L388.8,86.8 L390.4,86.3 L392.0,86.0"/></g><line x1="472.5" y1="20.8" x2="472.5" y2="152.5" class="ds"/></g><path d="M332.3,19.3v3.5M332.3,152.5v-3.5M367.3,19.3v3.5M367.3,152.5v-3.5M402.4,19.3v3.5M402.4,152.5v-3.5M437.4,19.3v3.5M437.4,152.5v-3.5M472.5,19.3v3.5M472.5,152.5v-3.5M507.5,19.3v3.5M507.5,152.5v-3.5M542.6,19.3v3.5M542.6,152.5v-3.5M577.6,19.3v3.5M577.6,152.5v-3.5M332.3,32.6h3.5M577.6,32.6h-3.5M332.3,59.3h3.5M577.6,59.3h-3.5M332.3,85.9h3.5M577.6,85.9h-3.5M332.3,112.5h3.5M577.6,112.5h-3.5M332.3,139.2h3.5M577.6,139.2h-3.5" class="tk"/><rect class="fr" x="332.3" y="19.3" width="245.3" height="133.2"/></g><text x="185" y="13.2" font-size="18.8" text-anchor="middle">Mg-doped</text><text x="455" y="13.2" font-size="18.8" text-anchor="middle">Zn-doped</text><text x="284.4" y="40" font-size="19.6" text-anchor="middle">(a)</text><text x="554.4" y="40" font-size="19.6" text-anchor="middle">(b)</text><text x="57.2" y="37.6" font-size="18.5" text-anchor="end">80</text><text x="57.2" y="64.3" font-size="18.5" text-anchor="end">40</text><text x="57.2" y="90.9" font-size="18.5" text-anchor="end">0</text><text x="57.2" y="117.5" font-size="18.5" text-anchor="end">−40</text><text x="57.2" y="144.2" font-size="18.5" text-anchor="end">−80</text><text x="57.2" y="170.8" font-size="18.5" text-anchor="end">80</text><text x="57.2" y="197.5" font-size="18.5" text-anchor="end">40</text><text x="57.2" y="224.1" font-size="18.5" text-anchor="end">0</text><text x="57.2" y="250.7" font-size="18.5" text-anchor="end">−40</text><text x="57.2" y="277.4" font-size="18.5" text-anchor="end">−80</text><text x="327.6" y="304.0" font-size="18.5" text-anchor="end">80</text><text x="327.6" y="330.7" font-size="18.5" text-anchor="end">40</text><text x="327.6" y="357.3" font-size="18.5" text-anchor="end">0</text><text x="327.6" y="383.9" font-size="18.5" text-anchor="end">−40</text><text x="327.6" y="410.6" font-size="18.5" text-anchor="end">−80</text><text x="62.2" y="303.6" font-size="18.5" text-anchor="middle">−8</text><text x="97.3" y="303.6" font-size="18.5" text-anchor="middle">−6</text><text x="132.3" y="303.6" font-size="18.5" text-anchor="middle">−4</text><text x="167.4" y="303.6" font-size="18.5" text-anchor="middle">−2</text><text x="202.5" y="303.6" font-size="18.5" text-anchor="middle">0</text><text x="237.6" y="303.6" font-size="18.5" text-anchor="middle">2</text><text x="272.6" y="303.6" font-size="18.5" text-anchor="middle">4</text><text x="332.3" y="437.2" font-size="18.5" text-anchor="middle">−8</text><text x="367.3" y="437.2" font-size="18.5" text-anchor="middle">−6</text><text x="402.4" y="437.2" font-size="18.5" text-anchor="middle">−4</text><text x="437.4" y="437.2" font-size="18.5" text-anchor="middle">−2</text><text x="472.5" y="437.2" font-size="18.5" text-anchor="middle">0</text><text x="507.5" y="437.2" font-size="18.5" text-anchor="middle">2</text><text x="542.6" y="437.2" font-size="18.5" text-anchor="middle">4</text><text x="577.6" y="437.2" font-size="18.5" text-anchor="middle">6</text><text x="325.6" y="459.2" font-size="18.8" text-anchor="middle">Energy /eV</text><text transform="translate(16.4,253) rotate(-90)" font-size="18.8" text-anchor="middle">Density Of States /eV<tspan dy="-7" font-size="12.5">−1</tspan></text><rect x="61.6" y="348" width="222.4" height="48.8" fill="#fff" stroke="#262626" stroke-width="1.4"/><line x1="71.5" y1="360" x2="96.6" y2="360" stroke="#0000ff" stroke-width="1.1"/><line x1="71.5" y1="382.2" x2="96.6" y2="382.2" stroke="#008000" stroke-width="1.1"/><line x1="211.8" y1="360" x2="237.5" y2="360" stroke="#ff00ff" stroke-width="1.1"/><line x1="211.8" y1="382.2" x2="237.5" y2="382.2" stroke="#ff0000" stroke-width="1.1"/><text x="116" y="366.1" font-size="18" textLength="87" lengthAdjust="spacingAndGlyphs">Total DOS</text><text x="115.6" y="388.1" font-size="18" textLength="22" lengthAdjust="spacingAndGlyphs">Fe</text><text x="256" y="366.1" font-size="18" textLength="14.5" lengthAdjust="spacingAndGlyphs">O</text><text x="255.4" y="388.1" font-size="18" textLength="24" lengthAdjust="spacingAndGlyphs">Zn</text></svg></body></html>
